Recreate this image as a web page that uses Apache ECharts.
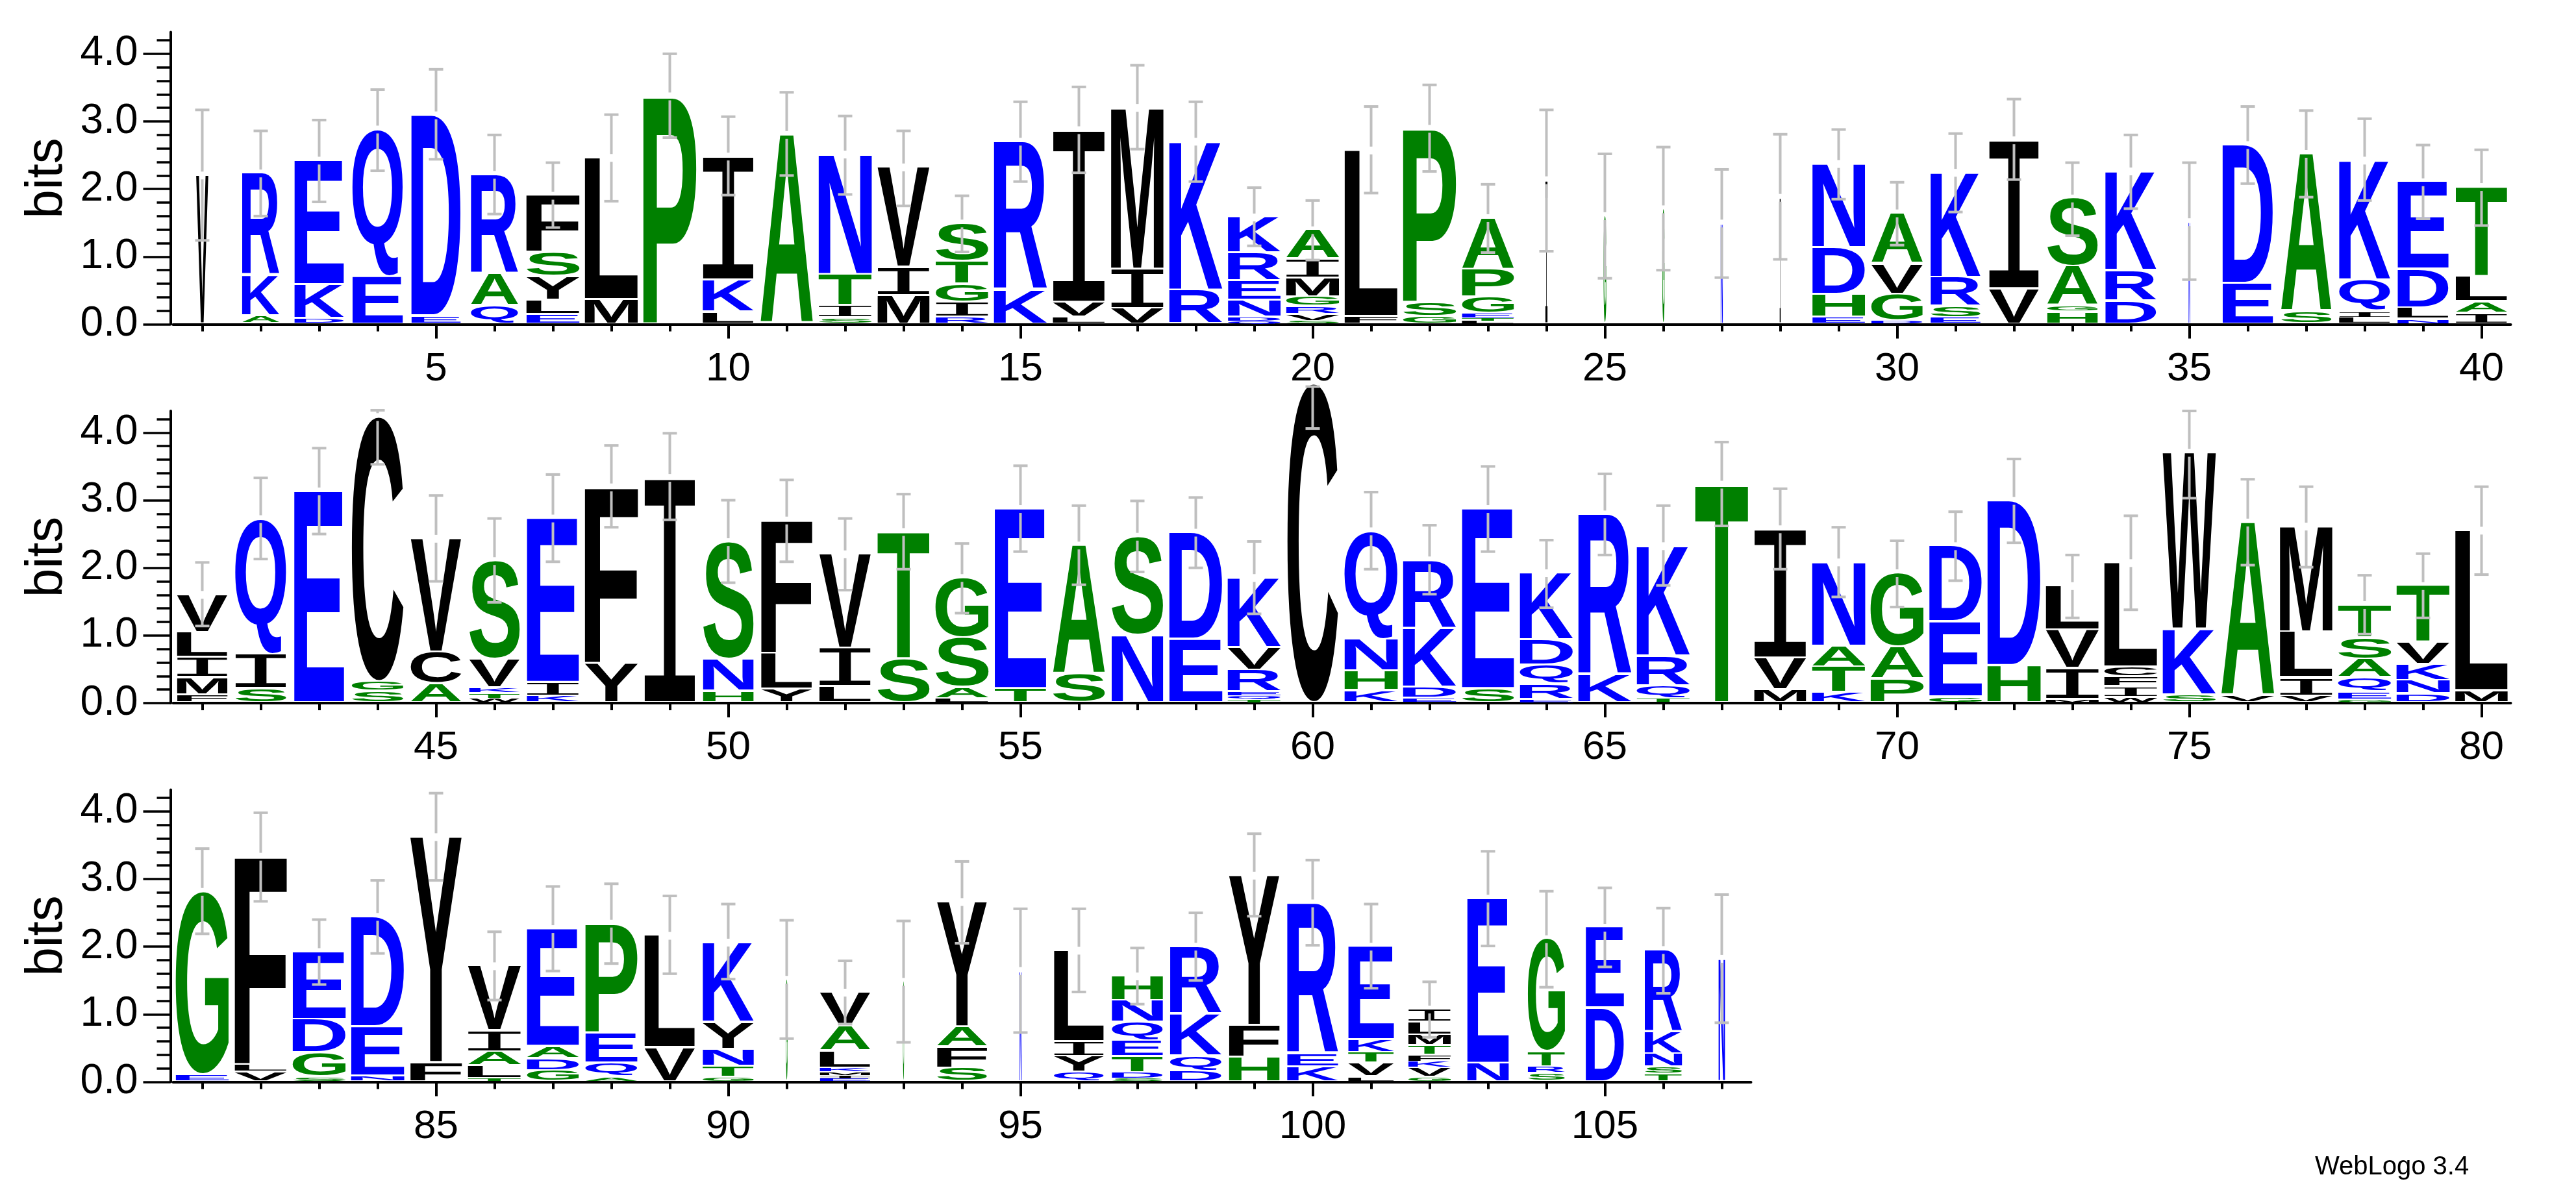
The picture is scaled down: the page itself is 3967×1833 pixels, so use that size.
<!DOCTYPE html>
<html><head><meta charset="utf-8">
<script src="https://cdn.jsdelivr.net/npm/echarts@6/dist/echarts.min.js"></script>
<style>html,body{margin:0;padding:0;background:#fff;}#chart{width:3967px;height:1833px;}</style>
</head><body><div id="chart"></div>
<script>
// ---------------- DATA ----------------
const ROW_START = [1, 41, 81];
const X_LABELS_1 = [5, 10, 15, 20, 25, 30, 35, 40];
const X_LABELS_2 = [45, 50, 55, 60, 65, 70, 75, 80];
const X_LABELS_3 = [85, 90, 95, 100, 105];
const Y_TICKS = [0, 1, 2, 3, 4];

// letter stacks, bottom -> top : [residue, bits]
const STACKS_1 = [
 [['V',2.20]],
 [['A',0.12],['K',0.60],['R',1.51]],
 [['D',0.08],['K',0.50],['E',1.84]],
 [['E',0.70],['Q',2.18]],
 [['E',0.12],['D',2.97]],
 [['Q',0.27],['A',0.47],['R',1.47]],
 [['E',0.14],['L',0.21],['Y',0.35],['S',0.36],['F',0.84]],
 [['M',0.36],['L',2.10]],
 [['P',3.37]],
 [['L',0.18],['K',0.47],['I',1.83]],
 [['A',2.80]],
 [['S',0.09],['I',0.18],['T',0.46],['N',1.78]],
 [['M',0.42],['I',0.42],['V',1.48]],
 [['R',0.10],['I',0.22],['G',0.27],['T',0.34],['S',0.56]],
 [['K',0.50],['R',2.20]],
 [['L',0.10],['V',0.22],['I',2.55]],
 [['V',0.23],['I',0.58],['M',2.39]],
 [['R',0.50],['K',2.20]],
 [['Q',0.04],['D',0.06],['N',0.25],['E',0.29],['R',0.41],['K',0.53]],
 [['S',0.04],['V',0.10],['R',0.12],['G',0.14],['M',0.28],['I',0.28],['A',0.43]],
 [['F',0.11],['L',2.46]],
 [['G',0.11],['S',0.21],['P',2.57]],
 [['L',0.04],['T',0.04],['E',0.08],['G',0.24],['P',0.41],['A',0.76]],
 [['I',2.13]],
 [['G',1.60]],
 [['G',1.70]],
 [['N',1.49]],
 [['I',1.87]],
 [['E',0.10],['H',0.34],['D',0.69],['N',1.24]],
 [['D',0.05],['G',0.39],['V',0.45],['A',0.75]],
 [['E',0.09],['S',0.17],['R',0.43],['K',1.55]],
 [['V',0.52],['I',2.20]],
 [['H',0.18],['G',0.09],['A',0.58],['S',1.01]],
 [['D',0.34],['R',0.45],['K',1.47]],
 [['N',1.51]],
 [['E',0.60],['D',2.05]],
 [['S',0.18],['A',2.34]],
 [['L',0.09],['I',0.10],['Q',0.46],['K',1.77]],
 [['N',0.07],['L',0.17],['D',0.57],['E',1.29]],
 [['I',0.16],['A',0.17],['L',0.37],['T',1.33]]
];
const WIDTHS_1 = [0.23,0.70,0.93,0.95,0.93,0.89,1.0,1.0,1.0,0.96, 0.99,1.0,0.98,0.99,1.0,0.98,0.99,1.0,0.99,1.0, 1.0,1.0,0.98,0.04,0.05,0.04,0.04,0.02,0.99,0.97, 0.94,0.94,0.95,0.96,0.03,0.95,0.95,0.96,0.96,0.97];
const ERR_LO_1 = [1.24,1.60,1.81,2.27,2.44,1.63,1.43,1.82,2.76,1.91, 2.20,1.92,1.75,1.07,2.11,2.24,2.59,2.11,1.16,0.95, 1.94,2.26,1.06,1.08,0.68,0.80,0.69,0.96,1.85,1.17, 1.66,2.14,1.31,1.71,0.66,2.08,1.88,1.83,1.56,1.46];
const ERR_HI_1 = [3.17,2.86,3.02,3.47,3.77,2.80,2.39,3.10,4.00,3.07, 3.43,3.08,2.86,1.90,3.29,3.51,3.83,3.29,2.02,1.83, 3.22,3.54,2.07,3.17,2.52,2.62,2.29,2.81,2.88,2.10, 2.82,3.33,2.39,2.80,2.39,3.22,3.16,3.04,2.65,2.58];

const STACKS_2 = [
 [['F',0.12],['M',0.25],['I',0.30],['L',0.37],['V',0.56]],
 [['S',0.21],['I',0.51],['Q',2.00]],
 [['E',3.13]],
 [['S',0.17],['G',0.14],['C',3.92]],
 [['A',0.28],['C',0.47],['V',1.68]],
 [['W',0.06],['T',0.08],['K',0.08],['V',0.42],['S',1.46]],
 [['K',0.10],['I',0.20],['E',2.43]],
 [['Y',0.58],['F',2.61]],
 [['I',3.33]],
 [['H',0.17],['N',0.47],['S',1.74]],
 [['Y',0.20],['L',0.53],['F',1.97]],
 [['L',0.24],['I',0.57],['V',1.39]],
 [['S',0.65],['T',1.88]],
 [['L',0.06],['A',0.17],['S',0.73],['G',0.89]],
 [['T',0.21],['E',2.66]],
 [['S',0.42],['A',1.91]],
 [['N',1.00],['S',1.46]],
 [['E',0.94],['D',1.58]],
 [['T',0.04],['Q',0.06],['E',0.06],['R',0.32],['V',0.34],['K',1.03]],
 [['C',4.72]],
 [['K',0.18],['H',0.29],['N',0.47],['Q',1.60]],
 [['E',0.07],['D',0.16],['K',0.87],['R',1.01]],
 [['S',0.21],['E',2.66]],
 [['E',0.05],['R',0.23],['Q',0.28],['D',0.37],['K',0.99]],
 [['K',0.41],['R',2.38]],
 [['T',0.06],['Q',0.19],['R',0.44],['K',1.63]],
 [['T',3.23]],
 [['M',0.19],['V',0.47],['I',1.91]],
 [['K',0.15],['T',0.38],['A',0.31],['N',1.24]],
 [['P',0.35],['A',0.48],['G',1.09]],
 [['G',0.09],['E',1.11],['D',1.12]],
 [['H',0.55],['D',2.44]],
 [['M',0.05],['I',0.46],['V',0.57],['L',0.65]],
 [['W',0.08],['I',0.16],['F',0.145],['C',0.145],['L',1.54]],
 [['S',0.12],['K',0.97],['W',2.61]],
 [['V',0.10],['A',2.57]],
 [['V',0.10],['I',0.27],['L',0.68],['M',1.56]],
 [['G',0.04],['E',0.12],['Q',0.21],['A',0.27],['S',0.32],['T',0.49]],
 [['D',0.13],['N',0.20],['K',0.24],['V',0.32],['T',0.84]],
 [['M',0.18],['L',2.37]]
];
const WIDTHS_2 = [0.95,0.96,0.94,0.97,0.95,0.95,0.98,1.0,0.96,0.95, 0.96,0.97,0.98,1.0,0.97,0.98,0.97,1.0,1.0,0.95, 1.0,1.0,0.98,1.0,1.0,1.0,1.0,0.98,1.0,1.0, 0.99,1.0,1.0,1.0,1.0,1.0,0.99,1.0,1.0,0.99];
const ERR_LO_2 = [1.14,2.13,2.50,3.53,1.80,1.49,2.09,2.60,2.71,1.78, 2.09,1.67,1.98,1.33,2.24,1.75,1.94,2.00,1.32,4.06, 1.98,1.61,2.24,1.41,2.19,1.74,2.62,1.98,1.57,1.42, 1.81,2.37,1.26,1.38,3.03,2.04,2.01,1.02,1.26,1.90];
const ERR_HI_2 = [2.08,3.33,3.77,4.33,3.07,2.73,3.38,3.81,3.99,3.00, 3.30,2.73,3.09,2.36,3.51,2.92,2.99,3.04,2.39,4.68, 3.12,2.63,3.50,2.41,3.39,2.92,3.86,3.17,2.60,2.40, 2.83,3.61,2.19,2.77,4.32,3.31,3.20,1.89,2.21,3.20];

const STACKS_3 = [
 [['E',0.10],['G',2.71]],
 [['V',0.14],['L',0.11],['F',3.08]],
 [['S',0.07],['G',0.36],['D',0.49],['E',1.00]],
 [['N',0.08],['E',0.73],['D',1.63]],
 [['F',0.28],['Y',3.34]],
 [['T',0.04],['L',0.19],['A',0.21],['I',0.31],['V',0.96]],
 [['G',0.16],['D',0.18],['A',0.18],['E',1.74]],
 [['A',0.07],['Q',0.20],['E',0.45],['P',1.62]],
 [['V',0.50],['L',1.66]],
 [['G',0.06],['T',0.17],['N',0.25],['Y',0.40],['K',1.18]],
 [['G',1.51]],
 [['E',0.04],['I',0.05],['M',0.05],['K',0.06],['L',0.25],['A',0.36],['V',0.51]],
 [['G',1.48]],
 [['S',0.20],['F',0.31],['A',0.30],['Y',1.85]],
 [['N',1.64]],
 [['Q',0.14],['Y',0.23],['I',0.22],['L',1.35]],
 [['S',0.04],['D',0.09],['T',0.24],['E',0.23],['Q',0.28],['N',0.32],['H',0.36]],
 [['D',0.16],['Q',0.22],['K',0.62],['R',1.00]],
 [['H',0.36],['F',0.47],['Y',2.22]],
 [['K',0.22],['E',0.19],['R',2.23]],
 [['L',0.07],['V',0.20],['T',0.16],['K',0.19],['E',1.38]],
 [['G',0.06],['V',0.14],['K',0.09],['F',0.095],['T',0.145],['M',0.16],['L',0.19],['I',0.19]],
 [['N',0.27],['E',2.44]],
 [['S',0.12],['R',0.10],['T',0.22],['G',1.67]],
 [['D',1.09],['E',1.19]],
 [['T',0.11],['S',0.105],['N',0.195],['K',0.32],['R',1.22]],
 [['N',1.82]]
];
const WIDTHS_3 = [1.0,0.98,1.0,1.0,0.97,1.0,0.98,0.98,0.95,0.96, 0.03,0.95,0.02,0.94,0.04,0.94,0.96,0.97,0.95,0.96, 0.86,0.80,0.78,0.70,0.72,0.70,0.12];
const ERR_LO_3 = [2.19,2.67,1.44,1.90,2.98,1.21,1.64,1.75,1.60,1.52, 0.64,0.855,0.585,2.05,0.73,1.33,1.15,1.50,2.45,2.02, 1.385,0.66,2.01,1.40,1.70,1.31,0.875];
const ERR_HI_3 = [3.45,3.98,2.40,2.98,4.27,2.22,2.89,2.93,2.75,2.63, 2.39,1.79,2.38,3.26,2.56,2.56,1.98,2.50,3.67,3.28, 2.63,1.48,3.41,2.82,2.87,2.57,2.77];

// residue colour classes (hydrophobicity scheme)
const BLUE_RES = 'DEKNQR', GREEN_RES = 'AGHPST', BLACK_RES = 'CFILMVWY';

// ---------------- STYLE / LAYOUT ----------------
const COL_BLUE = '#0000ff', COL_GREEN = '#008000', COL_BLACK = '#000000', COL_ERR = '#bfbfbf';
const FONT_PX = 200;
const LETTER_FONT = 'bold ' + FONT_PX + 'px "Liberation Sans", Arial, sans-serif';
const SERIF_I_FONT = FONT_PX + 'px "Liberation Mono", "DejaVu Sans Mono", monospace';
const LABEL_FAMILY = '"Liberation Sans", Arial, sans-serif';
const GRID_LEFT = 266.5, COL_PX = 90, GRID_H = 450, Y_MAX = 4.32;
const ROW_ZERO = [499.5, 1083, 1666.5];
const STACK_FRAC = 0.91;
const CAP_HALF = 11, ERR_W = 4, ERR_GAP = 6;

function colorOf(ch) {
  if (BLUE_RES.indexOf(ch) >= 0) return COL_BLUE;
  if (GREEN_RES.indexOf(ch) >= 0) return COL_GREEN;
  return COL_BLACK;
}
function fontOf(ch) { return ch === 'I' ? SERIF_I_FONT : LETTER_FONT; }

// measure ink box of each glyph (textAlign left, textBaseline middle, as zrender draws)
const mctx = document.createElement('canvas').getContext('2d');
mctx.textAlign = 'left'; mctx.textBaseline = 'middle';
const METRICS = {};
(BLUE_RES + GREEN_RES + BLACK_RES).split('').forEach(ch => {
  mctx.font = fontOf(ch);
  const m = mctx.measureText(ch);
  METRICS[ch] = {l: m.actualBoundingBoxLeft, r: m.actualBoundingBoxRight,
                 a: m.actualBoundingBoxAscent, d: m.actualBoundingBoxDescent};
});
const LETTERS = Object.keys(METRICS);

const rows = [
  {stacks: STACKS_1, widths: WIDTHS_1, lo: ERR_LO_1, hi: ERR_HI_1, labels: X_LABELS_1},
  {stacks: STACKS_2, widths: WIDTHS_2, lo: ERR_LO_2, hi: ERR_HI_2, labels: X_LABELS_2},
  {stacks: STACKS_3, widths: WIDTHS_3, lo: ERR_LO_3, hi: ERR_HI_3, labels: X_LABELS_3}
];

function renderLetter(params, api) {
  const x = api.value(0), y0 = api.value(1), y1 = api.value(2), wf = api.value(3);
  const ch = LETTERS[api.value(4)];
  const m = METRICS[ch];
  const colW = api.size([1, 0])[0];
  const w = colW * STACK_FRAC * wf;
  const cx = api.coord([x, 0])[0];
  const pb = api.coord([x, y0])[1], pt = api.coord([x, y1])[1];
  const h = pb - pt;
  const gap = Math.min(3, h * 0.25);
  const inkH = h - gap;
  if (inkH <= 0.2 || w <= 0.2) return null;
  const sx = w / (m.l + m.r), sy = inkH / (m.a + m.d);
  return {
    type: 'text',
    x: cx - w / 2 + m.l * sx,
    y: pt + m.a * sy,
    scaleX: sx, scaleY: sy,
    style: {text: ch, x: 0, y: 0, font: fontOf(ch), fill: colorOf(ch),
            align: 'left', verticalAlign: 'middle', textAlign: 'left', textVerticalAlign: 'middle'}
  };
}

function renderErr(params, api) {
  const x = api.value(0), lo = api.value(1), hi = api.value(2), top = api.value(3);
  const cx = api.coord([x, 0])[0];
  const yl = api.coord([x, lo])[1], yh = api.coord([x, hi])[1], yt = api.coord([x, top])[1];
  const st = {stroke: COL_ERR, lineWidth: ERR_W};
  const kids = [
    {type: 'line', shape: {x1: cx - CAP_HALF, y1: yh, x2: cx + CAP_HALF, y2: yh}, style: st},
    {type: 'line', shape: {x1: cx - CAP_HALF, y1: yl, x2: cx + CAP_HALF, y2: yl}, style: st}
  ];
  if (yt > yh && yt < yl) {
    if (yt - ERR_GAP > yh) kids.push({type: 'line', shape: {x1: cx, y1: yh, x2: cx, y2: yt - ERR_GAP}, style: st});
    if (yt + ERR_GAP < yl) kids.push({type: 'line', shape: {x1: cx, y1: yt + ERR_GAP, x2: cx, y2: yl}, style: st});
  } else {
    kids.push({type: 'line', shape: {x1: cx, y1: yh, x2: cx, y2: yl}, style: st});
  }
  return {type: 'group', children: kids};
}

const grid = [], xAxis = [], yAxis = [], series = [];
rows.forEach((row, i) => {
  const n = row.stacks.length, start = ROW_START[i];
  const positions = row.stacks.map((s, k) => start + k);
  grid.push({left: GRID_LEFT, top: ROW_ZERO[i] - GRID_H, width: COL_PX * n, height: GRID_H,
             containLabel: false, outerBoundsMode: 'none'});
  const xmin = start - 0.5, xmax = start + n - 0.5;
  xAxis.push({
    type: 'value', gridIndex: i, min: xmin, max: xmax, position: 'bottom',
    axisLine: {show: true, onZero: false, lineStyle: {color: '#000', width: 4}},
    axisTick: {show: true, customValues: positions, length: 11, lineStyle: {color: '#000', width: 4}},
    axisLabel: {show: true, customValues: row.labels, margin: 38, fontSize: 62, fontFamily: LABEL_FAMILY,
                color: '#000', formatter: v => String(Math.round(v))},
    splitLine: {show: false}
  });
  xAxis.push({
    type: 'value', gridIndex: i, min: xmin, max: xmax, position: 'bottom',
    axisLine: {show: false},
    axisTick: {show: true, customValues: row.labels, length: 22, lineStyle: {color: '#000', width: 4}},
    axisLabel: {show: false},
    splitLine: {show: false}
  });
  yAxis.push({
    type: 'value', gridIndex: i, min: 0, max: Y_MAX, interval: 1, offset: 4,
    name: 'bits', nameLocation: 'middle', nameGap: 148,
    nameTextStyle: {fontSize: 80, fontFamily: LABEL_FAMILY, color: '#000'},
    axisLine: {show: true, lineStyle: {color: '#000', width: 4}},
    axisTick: {show: true, customValues: Y_TICKS, length: 42, lineStyle: {color: '#000', width: 3.5}},
    minorTick: {show: true, splitNumber: 5, length: 21, lineStyle: {color: '#000', width: 3.5}},
    axisLabel: {show: true, customValues: Y_TICKS, margin: 50, fontSize: 64, fontFamily: LABEL_FAMILY,
                color: '#000', formatter: v => v.toFixed(1)},
    splitLine: {show: false}, minorSplitLine: {show: false}
  });
  const letterData = [], errData = [];
  row.stacks.forEach((stack, k) => {
    const pos = start + k;
    let cum = 0;
    stack.forEach(([ch, bits]) => {
      letterData.push([pos, cum, cum + bits, row.widths[k], LETTERS.indexOf(ch)]);
      cum += bits;
    });
    errData.push([pos, row.lo[k], row.hi[k], cum]);
  });
  series.push({type: 'custom', xAxisIndex: 2 * i, yAxisIndex: i, renderItem: renderLetter,
               data: letterData, z: 2, clip: false, silent: true});
  series.push({type: 'custom', xAxisIndex: 2 * i, yAxisIndex: i, renderItem: renderErr,
               data: errData, z: 3, clip: false, silent: true});
});

const chart = echarts.init(document.getElementById('chart'), null, {renderer: 'canvas'});
chart.setOption({
  backgroundColor: '#ffffff',
  animation: false,
  grid, xAxis, yAxis, series,
  graphic: [{type: 'text', left: 3565, top: 1778,
             style: {text: 'WebLogo 3.4', font: '40px "Liberation Sans", Arial, sans-serif', fill: '#000'}}]
});
</script>
</body></html>
